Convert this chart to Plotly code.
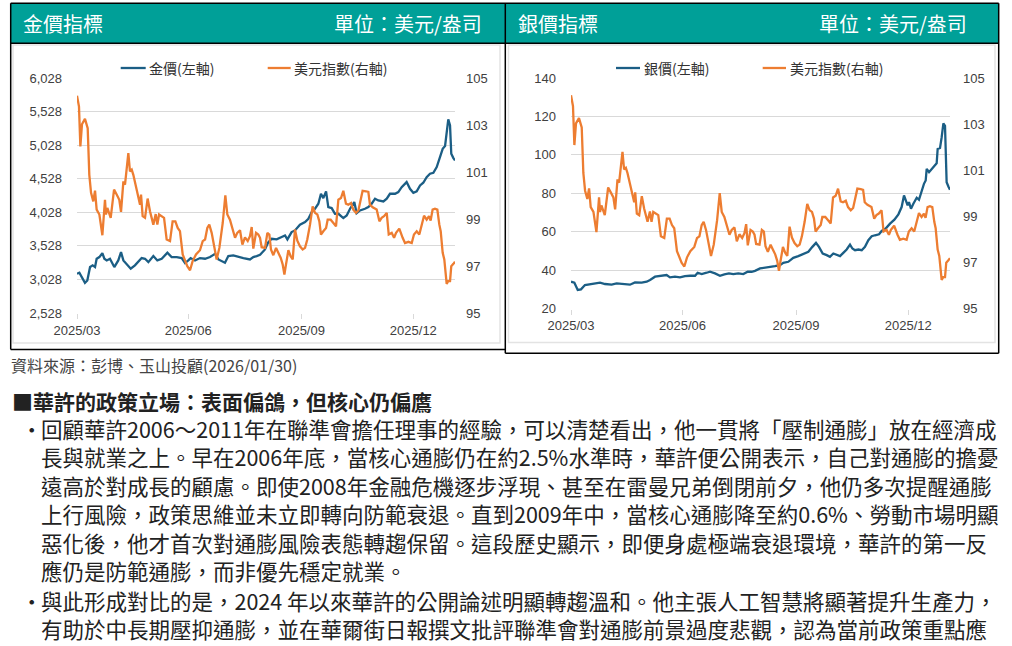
import plotly.graph_objects as go

W, H = 1012, 646

gold_day = [0.0, 1.9, 6.4, 8.3, 10.5, 12.6, 14.5, 15.8, 18.0, 20.4, 22.0, 23.9, 26.5, 30.0, 33.2, 35.4,
            37.3, 40.5, 43.2, 46.6, 49.3, 52.0, 54.7, 57.4, 61.4, 64.6, 68.1, 72.7, 76.1, 80.2, 84.2,
            86.9, 89.5, 91.4, 94.9, 98.9, 103.0, 107.0, 111.0, 113.7, 119.0, 121.7, 125.7, 129.8,
            133.8, 139.1, 141.8, 144.5,
            147.2, 151.2, 153.9, 156.6, 160.6, 164.6, 167.3, 169.2, 172.6, 175.3, 179.3, 183.4, 186.1,
            188.7, 191.4, 194.1, 196.2, 198.1, 200.3, 202.1, 204.8, 207.5, 210.2, 214.2, 216.9, 219.6,
            223.0, 224.9, 227.6, 231.6, 234.3, 237.0, 239.7, 242.3, 246.4, 249.1, 251.7, 255.8, 258.4,
            261.1, 265.1, 267.8, 270.5, 273.2, 275.9, 278.5, 281.2, 283.9, 286.6, 289.3, 292.0, 294.1,
            296.0, 297.3, 298.6, 300.0, 301.0, 302.7, 304.0]
gold_val = [3112, 3127, 2978, 3013, 3212, 3237, 3212, 3336, 3361, 3420, 3336, 3311, 3336, 3212, 3311, 3435,
            3311, 3237, 3187, 3237, 3286, 3346, 3336, 3286, 3376, 3311, 3336, 3425, 3361, 3361, 3346,
            3271, 3311, 3346, 3311, 3346, 3336, 3361, 3410, 3326, 3276, 3376, 3385, 3361,
            3346, 3326, 3361, 3376,
            3395, 3475, 3584, 3634, 3624, 3659, 3683, 3624, 3733, 3758, 3842, 3882, 3932,
            4031, 4081, 4155, 4304, 4239, 4339, 4105, 4091, 4006, 4006, 3942, 3981, 4081,
            4180, 4016, 4056, 4081, 4105, 4155, 4230, 4205, 4190, 4230, 4304, 4304, 4329,
            4403, 4478, 4378, 4319, 4339, 4428, 4468, 4552, 4602, 4617, 4701, 4875, 4974,
            5014, 5222, 5411, 5322, 4900, 4835, 4800]

silver_day = [0.0, 2.7, 5.4, 8.0, 11.2, 16.6, 21.9, 23.3, 27.3, 32.6, 36.6, 42.0, 47.3, 51.3, 56.7, 60.7,
              63.4, 67.4, 72.7, 76.7, 79.4, 83.4, 87.4, 91.4, 95.5, 99.5, 101.6, 104.8, 108.8, 111.5,
              115.5, 119.5, 123.0, 126.7, 130.2, 134.2, 138.2, 141.7, 144.9,
              147.6, 151.6, 155.6, 159.6, 163.6, 167.6, 170.3, 174.3, 178.3, 182.3, 186.4, 190.4, 193.6,
              196.5, 198.9, 201.9, 205.1, 207.7, 210.4, 213.1, 215.8, 218.4, 221.1, 223.8, 225.7, 227.8,
              230.5, 233.2, 235.8, 238.5, 241.2, 243.8, 247.1, 249.2, 252.4, 255.9, 259.4, 262.6, 265.2,
              267.1, 268.4, 270.0, 271.1, 272.7, 274.6, 277.3, 279.1, 281.3, 283.1, 284.5, 285.3, 287.2,
              289.3, 291.4, 293.3, 294.1, 296.0, 297.3, 298.7, 300.0, 300.8, 301.3, 302.7, 304.0]
silver_val = [33.95, 33.44, 29.64, 29.98, 32.23, 32.75, 33.09, 33.44, 32.75, 32.40, 33.09, 32.75, 32.40,
              33.61, 33.44, 33.95, 34.82, 36.55, 36.89, 37.41, 36.20, 36.55, 36.20, 36.89, 37.06, 37.06,
              38.62, 37.93, 38.62, 39.14, 38.27, 37.06, 37.75, 38.27, 37.93, 38.27, 37.93, 39.14, 39.14,
              39.60, 40.86, 41.21, 41.38, 42.07, 42.59, 43.80, 44.32, 46.39, 47.25, 48.29, 49.50, 52.09,
              54.16, 52.09, 48.64, 47.77, 46.91, 48.64, 47.77, 47.25, 48.98, 50.71, 53.30, 51.23, 50.36,
              50.71, 50.36, 52.09, 55.54, 57.62, 58.13, 58.65, 60.38, 61.59, 64.18, 66.25, 69.02, 72.82,
              78.86, 76.27, 73.68, 75.41, 71.95, 74.54, 77.65, 76.61, 81.45, 84.91, 86.63, 92.68, 90.95,
              92.68, 93.89, 95.61, 103.04, 103.56, 109.08, 116.34, 115.13, 96.99, 85.77, 83.52, 81.80]

dxy_day = [0.0, 1.6, 2.7, 4.0, 6.4, 7.8, 8.6, 9.9, 11.3, 13.1, 14.5, 15.8, 18.0, 20.4, 22.5, 23.3, 24.4,
           27.1, 29.8, 31.9, 34.0, 35.4, 37.3, 38.6, 41.3, 42.6, 44.0, 45.3, 46.6, 49.3, 50.7, 51.5,
           52.8, 54.7, 56.8, 58.7, 61.4, 63.3, 64.6, 66.0, 68.1, 70.0, 72.1, 74.8, 76.9, 79.1, 81.0,
           82.8, 85.0, 86.9, 88.7, 90.9, 93.0, 95.7, 98.9, 101.1, 103.0, 104.8, 106.4, 108.3, 110.2,
           112.3, 114.5, 117.2, 119.3, 120.9, 123.0, 125.7, 127.1, 128.9, 131.1, 133.0, 135.1, 137.3,
           139.1, 140.5, 141.8, 144.0, 145.8,
           147.2, 148.5, 151.2, 153.1, 154.7, 156.0, 157.9, 160.1, 161.9, 163.8, 165.4, 166.8, 168.1,
           170.0, 171.8, 173.5, 175.3, 177.2, 179.3, 181.5, 183.4, 185.2, 187.4, 189.5, 191.4, 193.3,
           194.9, 196.2, 198.1, 200.3, 201.6, 204.0, 206.2, 208.3, 210.2, 212.3, 214.2, 216.3, 218.2,
           220.4, 222.2, 224.4, 226.3, 228.1, 229.7, 232.4, 234.3, 235.6, 237.8, 241.0, 243.2, 245.0,
           246.9, 249.1, 250.7, 253.1, 255.0, 256.6, 259.2, 261.9, 263.8, 266.5, 269.2, 271.0, 273.2,
           275.3, 277.2, 279.1, 281.2, 283.1, 284.4, 286.0, 287.9, 289.8, 291.4, 292.5, 294.1, 295.4,
           297.3, 298.6, 300.0, 301.0, 302.7, 304.0]
dxy_val = [104.25, 103.78, 102.09, 103.03, 103.26, 102.94, 102.86, 100.88, 100.11, 99.75, 100.21, 99.40,
           99.19, 98.31, 99.82, 99.19, 99.47, 99.05, 100.25, 100.04, 99.82, 99.30, 100.60, 100.46,
           101.80, 101.03, 101.10, 100.88, 100.60, 100.04, 99.61, 100.04, 99.12, 99.05, 99.87, 99.33,
           98.76, 99.21, 98.76, 99.19, 99.12, 99.05, 98.13, 98.06, 98.90, 98.90, 98.62, 98.48, 97.49,
           97.21, 96.99, 96.82, 97.21, 97.49, 97.67, 98.06, 98.13, 98.62, 98.76, 98.41, 97.91, 97.28,
           97.77, 98.83, 100.01, 99.19, 98.97, 98.48, 98.20, 98.41, 98.52, 97.91, 98.22, 98.06, 98.27,
           98.66, 97.74, 98.41, 98.34,
           98.20, 97.80, 97.77, 98.41, 98.34, 97.70, 97.46, 97.77, 97.56, 97.35, 97.07, 96.64, 97.07,
           97.67, 97.42, 97.28, 98.55, 98.08, 97.84, 97.70, 97.77, 98.13, 98.76, 99.54, 99.26, 99.19,
           98.90, 98.34, 98.48, 98.62, 98.97, 98.97, 98.83, 98.69, 99.82, 99.89, 100.20, 99.65, 99.61,
           99.68, 99.40, 99.26, 99.36, 99.75, 100.20, 100.18, 100.15, 99.61, 99.50, 99.40, 98.90, 99.05,
           99.12, 99.26, 98.34, 98.41, 98.20, 98.41, 98.59, 98.20, 97.98, 98.03, 97.98, 98.34, 98.48,
           98.34, 98.76, 99.14, 98.97, 99.12, 98.93, 99.40, 99.44, 99.40, 98.76, 98.48, 97.56, 97.28,
           96.24, 96.36, 96.36, 96.99, 97.09, 97.18]

x_tick_pos = [0, 89.4, 180.5, 270.5]
x_tick_text = ["2025/03", "2025/06", "2025/09", "2025/12"]
gold_ticks = [2528, 3028, 3528, 4028, 4528, 5028, 5528, 6028]
silver_ticks = [20, 40, 60, 80, 100, 120, 140]
dxy_ticks = [95, 97, 99, 101, 103, 105]

gold_name = "金價(左軸)"
silver_name = "銀價(左軸)"
dxy_name = "美元指數(右軸)"
left_title = "金價指標"
right_title = "銀價指標"
unit_text = "單位：美元/盎司"
source_text = "資料來源：彭博、玉山投顧(2026/01/30)"
heading_text = "■華許的政策立場：表面偏鴿，但核心仍偏鷹"
body_lines = [
    "回顧華許2006～2011年在聯準會擔任理事的經驗，可以清楚看出，他一貫將「壓制通膨」放在經濟成",
    "長與就業之上。早在2006年底，當核心通膨仍在約2.5%水準時，華許便公開表示，自己對通膨的擔憂",
    "遠高於對成長的顧慮。即使2008年金融危機逐步浮現、甚至在雷曼兄弟倒閉前夕，他仍多次提醒通膨",
    "上行風險，政策思維並未立即轉向防範衰退。直到2009年中，當核心通膨降至約0.6%、勞動市場明顯",
    "惡化後，他才首次對通膨風險表態轉趨保留。這段歷史顯示，即便身處極端衰退環境，華許的第一反",
    "應仍是防範通膨，而非優先穩定就業。",
    "與此形成對比的是，2024 年以來華許的公開論述明顯轉趨溫和。他主張人工智慧將顯著提升生產力，",
    "有助於中長期壓抑通膨，並在華爾街日報撰文批評聯準會對通膨前景過度悲觀，認為當前政策重點應",
]
body_bullets = [True, False, False, False, False, False, True, False]

# ---------------- styling ----------------
BLUE = "#1B5E85"
ORANGE = "#ED7D31"
TEAL = "#00A098"
GRID = "#D9D9D9"
AX_FONT = dict(family="Liberation Sans, Arial, sans-serif", size=13, color="#404040")
CJK = "Noto Sans CJK TC"


def fx(p):
    return p / W


def fy(p):
    return 1 - p / H


fig = go.Figure()
fig.add_trace(go.Scatter(x=gold_day, y=gold_val, name=gold_name, mode="lines",
                         line=dict(color=BLUE, width=2.3), xaxis="x", yaxis="y", showlegend=False))
fig.add_trace(go.Scatter(x=dxy_day, y=dxy_val, name=dxy_name, mode="lines",
                         line=dict(color=ORANGE, width=2.3), xaxis="x", yaxis="y2", showlegend=False))
fig.add_trace(go.Scatter(x=silver_day, y=silver_val, name=silver_name, mode="lines",
                         line=dict(color=BLUE, width=2.3), xaxis="x2", yaxis="y3", showlegend=False))
fig.add_trace(go.Scatter(x=dxy_day, y=dxy_val, name=dxy_name, mode="lines",
                         line=dict(color=ORANGE, width=2.3), xaxis="x2", yaxis="y4", showlegend=False))

xcommon = dict(range=[0, 304], tickmode="array", tickvals=x_tick_pos, ticktext=x_tick_text,
               showgrid=False, zeroline=False, showline=False, ticks="outside", ticklen=5,
               tickcolor=GRID, tickwidth=1, tickfont=AX_FONT, fixedrange=True, automargin=False)
ycommon = dict(showline=False, zeroline=False, ticks="", tickfont=AX_FONT, fixedrange=True,
               automargin=False)

fig.update_layout(
    width=W, height=H, autosize=False,
    margin=dict(l=0, r=0, t=0, b=0, pad=0, autoexpand=False),
    paper_bgcolor="white", plot_bgcolor="white",
    showlegend=False,
    xaxis=dict(domain=[fx(77), fx(455)], anchor="y", **xcommon),
    yaxis=dict(domain=[fy(313), fy(78)], range=[2528, 6028], tickmode="array", tickvals=gold_ticks,
               tickformat=",d", showgrid=True, gridcolor=GRID, gridwidth=1, anchor="x",
               ticklabelstandoff=14, **ycommon),
    yaxis2=dict(domain=[fy(313), fy(78)], range=[95, 105], tickmode="array", tickvals=dxy_ticks,
                overlaying="y", side="right", showgrid=False, anchor="x",
                ticklabelstandoff=10, **ycommon),
    xaxis2=dict(domain=[fx(571), fx(950)], anchor="y3", **xcommon),
    yaxis3=dict(domain=[fy(308.5), fy(78)], range=[20, 140], tickmode="array", tickvals=silver_ticks,
                showgrid=True, gridcolor=GRID, gridwidth=1, anchor="x2",
                ticklabelstandoff=14, **ycommon),
    yaxis4=dict(domain=[fy(309), fy(78)], range=[95, 105], tickmode="array", tickvals=dxy_ticks,
                overlaying="y3", side="right", showgrid=False, anchor="x2",
                ticklabelstandoff=12, **ycommon),
)

shapes = []


def rect(x0, y0, x1, y1, line=None, fill=None, width=1.5):
    shapes.append(dict(type="rect", xref="paper", yref="paper", x0=fx(x0), x1=fx(x1), y0=fy(y1), y1=fy(y0),
                       line=dict(color=line or "rgba(0,0,0,0)", width=width if line else 0),
                       fillcolor=fill or "rgba(0,0,0,0)", layer="below"))


def hline(x0, x1, y, color="black", width=1.5):
    shapes.append(dict(type="line", xref="paper", yref="paper", x0=fx(x0), x1=fx(x1), y0=fy(y), y1=fy(y),
                       line=dict(color=color, width=width)))


def vline(x, y0, y1, color="black", width=1.5):
    shapes.append(dict(type="line", xref="paper", yref="paper", x0=fx(x), x1=fx(x), y0=fy(y0), y1=fy(y1),
                       line=dict(color=color, width=width)))


# header bars
rect(11, 3.5, 505, 43, fill=TEAL)
rect(505.5, 3.5, 998.5, 43, fill=TEAL)
# inner light panels
rect(13, 45, 500, 343, line="#E3E3E3", width=1.5)
rect(508.5, 45, 995, 342.5, line="#E3E3E3", width=1.5)
# black frames
hline(10.7, 998.7, 3.3)
hline(10.7, 998.7, 43.3)
hline(10.7, 505.3, 349.5)
hline(505.3, 998.7, 353.3)
vline(10.7, 3.3, 349.5)
vline(505.3, 3.3, 353.3)
vline(998.7, 3.3, 353.3)

# legend samples
legend_items = [(120.7, 145.7, gold_name, BLUE), (267.7, 290.7, dxy_name, ORANGE),
                (616, 640, silver_name, BLUE), (762.7, 786, dxy_name, ORANGE)]
annotations = []
for x0, x1, label, col in legend_items:
    hline(x0, x1, 68, color=col, width=2.3)
    annotations.append(dict(x=fx(x1 + 1.5), y=fy(68), xref="paper", yref="paper", text=label,
                            showarrow=False, xanchor="left", yanchor="middle",
                            font=dict(family=CJK, size=14, color="#333333")))


def txt(x, y, text, size, anchor="left", color="#222222", family=CJK):
    annotations.append(dict(x=fx(x), y=fy(y), xref="paper", yref="paper", text=text, showarrow=False,
                            xanchor=anchor, yanchor="middle", font=dict(family=family, size=size, color=color)))


# headers
txt(21, 23.5, left_title, 20, color="white")
txt(484, 23.5, unit_text, 20, anchor="right", color="white")
txt(516, 23.5, right_title, 20, color="white")
txt(969, 23.5, unit_text, 20, anchor="right", color="white")

# source
txt(9, 364.5, source_text, 16, color="#444444")
# heading
txt(10, 400.5, "<b>" + heading_text + "</b>", 21, color="#222222")
# body
line_y = [428, 456.5, 485, 513, 542, 570, 600, 628]
for yy, line, bul in zip(line_y, body_lines, body_bullets):
    if bul:
        txt(31.5, yy, "・", 21.5, anchor="center")
    txt(39, yy, line, 21.5)

fig.update_layout(shapes=shapes, annotations=annotations)

fig.write_html("out.html", config={"displayModeBar": False},
               post_script="document.body.style.margin='0';document.body.style.overflow='hidden';")
